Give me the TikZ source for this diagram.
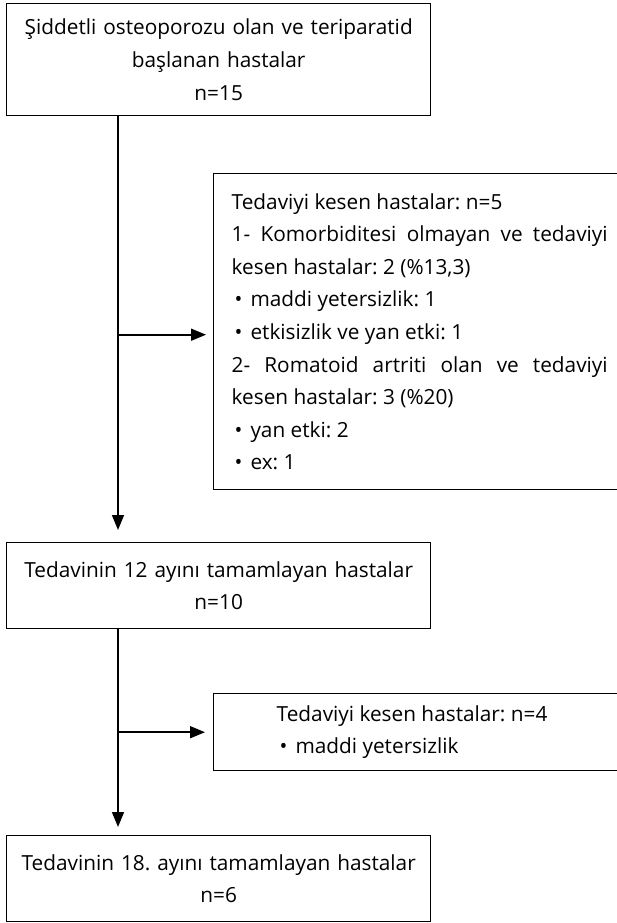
\documentclass[tikz,border=0pt]{standalone}
\usepackage{fontspec}
\setmainfont{Open Sans}
\usepackage{xcolor}
\usetikzlibrary{arrows.meta}
\frenchspacing

\begin{document}
\begin{tikzpicture}[x=1pt,y=-1pt,
  box/.style={draw, line width=1.4pt, rectangle, anchor=north west,
    inner ysep=0pt, font=\fontsize{20.8pt}{32.6pt}\selectfont},
  mainbox/.style={box, text width=410pt, inner xsep=7pt, align=center},
  sidebox/.style={box, text width=376pt, inner xsep=18pt, align=justify},
  arr/.style={line width=1.6pt, -{Triangle[length=15pt,width=12pt]}}
]

% ============================================================
% 参数区
% ============================================================

\def\SpineX{118}                              % 主干竖线位置
\def\Madde{\hspace*{3pt}•\hspace{8pt}}        % 列表圆点

\useasboundingbox (0,0) rectangle (616,923);

% ============================================================
% 方框
% ============================================================

\node[mainbox, minimum height=112pt] (b1) at (6,3)
  {Şiddetli osteoporozu olan ve teriparatid\\ başlanan hastalar\\ n=15};

\node[sidebox, minimum height=316pt] (b2) at (213,173)
  {Tedaviyi kesen hastalar: n=5\par
   1- Komorbiditesi olmayan ve tedaviyi\linebreak kesen hastalar: 2 (\%13,3)\par
   \Madde maddi yetersizlik: 1\par
   \Madde etkisizlik ve yan etki: 1\par
   2- Romatoid artriti olan ve tedaviyi\linebreak kesen hastalar: 3 (\%20)\par
   \Madde yan etki: 2\par
   \Madde ex: 1};

\node[mainbox, minimum height=86pt] (b3) at (6,542)
  {Tedavinin 12 ayını tamamlayan hastalar\\ n=10};

\node[sidebox, minimum height=77pt] (b4) at (213,693)
  {\hspace*{45pt}Tedaviyi kesen hastalar: n=4\par
   \hspace*{45pt}\Madde maddi yetersizlik};

\node[mainbox, minimum height=86pt] (b5) at (6,835)
  {Tedavinin 18. ayını tamamlayan hastalar\\ n=6};

% ============================================================
% 箭头
% ============================================================

\coordinate (spine) at (\SpineX,0);
\coordinate (b2in) at ([yshift=-3pt]b2.west);

\draw[arr, shorten >=12pt] (b1.south -| spine) -- (b3.north -| spine);
\draw[arr, shorten >=8pt]  (b3.south -| spine) -- (b5.north -| spine);

\draw[arr, shorten >=7pt] (b2in -| spine) -- (b2in);
\draw[arr, shorten >=8pt] (b4.west -| spine) -- (b4.west);

\end{tikzpicture}
\end{document}
